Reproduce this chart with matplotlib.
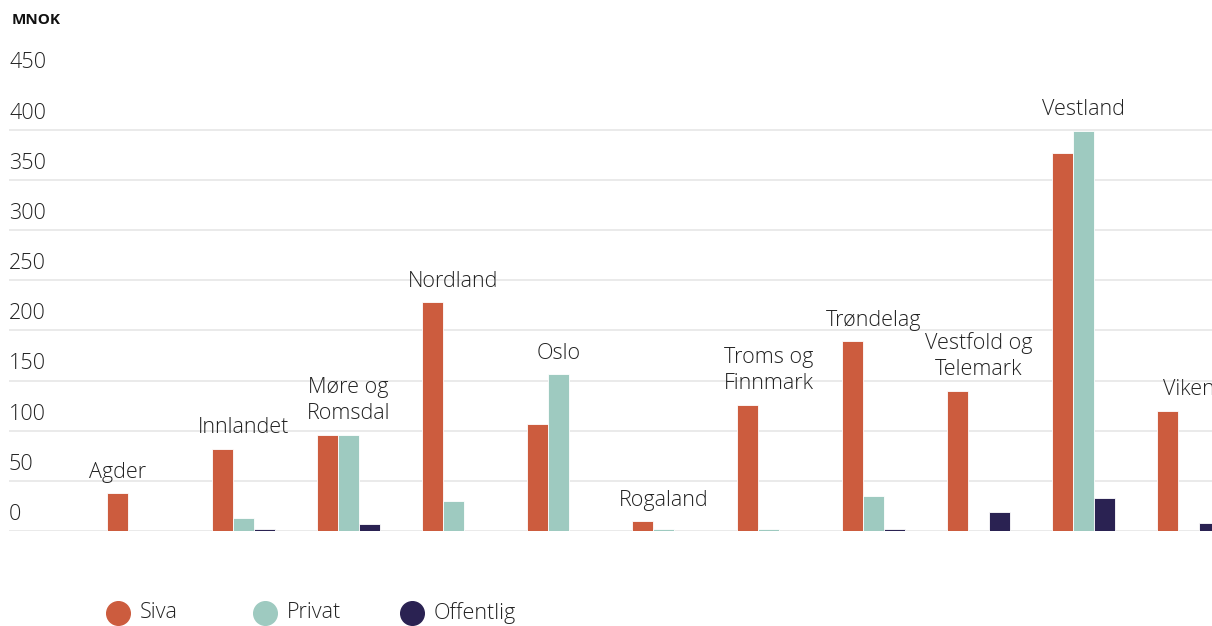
import matplotlib.pyplot as plt
import numpy as np
from matplotlib.lines import Line2D
from matplotlib.transforms import offset_copy

plt.rcParams['font.family'] = ['Open Sans', 'DejaVu Sans']
plt.rcParams['font.weight'] = 'light'

regions = ['Agder', 'Innlandet', 'Møre og\nRomsdal', 'Nordland', 'Oslo', 'Rogaland',
           'Troms og\nFinnmark', 'Trøndelag', 'Vestfold og\nTelemark', 'Vestland', 'Viken']
siva = [38, 82, 96, 228, 107, 10, 126, 189, 140, 377, 120]
privat = [0, 13, 96, 30, 156, 2, 2, 35, 0, 399, 0]
offentlig = [0, 2, 7, 0, 0, 0, 0, 2, 19, 33, 8]
yticks = [0, 50, 100, 150, 200, 250, 300, 350, 400, 450]

colors = {'Siva': '#cc5c3e', 'Privat': '#9ecac0', 'Offentlig': '#2a2252'}
fs = 15.5
W, H = 1212, 626

fig = plt.figure(figsize=(W / 100, H / 100), dpi=100)
ax = fig.add_axes([9 / W, 95 / H, 1 - 9 / W, 451.5 / H])

x = np.arange(len(regions))
w = 0.2
for off, name, vals in [(-w, 'Siva', siva), (0, 'Privat', privat), (w, 'Offentlig', offentlig)]:
    ax.bar(x + off, vals, width=w, color=colors[name], edgecolor='white', linewidth=0.6,
           zorder=3)

ax.set_xlim(-1.233, 10.224)
ax.set_ylim(0, 450)

# gridlines and y labels sitting above the lines
for v in yticks:
    ax.axhline(v, color='#e6e6e6', lw=1.2, zorder=1)
    ax.text(0.0, v, str(v), transform=offset_copy(ax.get_yaxis_transform(), fig, y=8, units='points'),
            ha='left', va='baseline', fontsize=fs, color='#222222')

ax.set_xticks([])
ax.set_yticks([])
for s in ax.spines.values():
    s.set_visible(False)

# region names above each group
label_shift = {'Agder': -0.2}
for i, name in enumerate(regions):
    top = max(siva[i], privat[i], offentlig[i])
    key = name.split('\n')[0]
    ax.annotate(name, (x[i] + label_shift.get(key, 0), top), xytext=(0, 11),
                textcoords='offset points', ha='center', va='baseline',
                fontsize=fs, color='#222222', linespacing=1.35, annotation_clip=False)

fig.text(12 / W, 1 - 20 / H, 'MNOK', fontsize=11, fontweight='bold', color='#111111',
         va='center', ha='left')

# legend items on a fixed pitch
leg_y = 1 - 613 / H
for k, (name, c) in enumerate(colors.items()):
    cx = (118 + 147 * k) / W
    fig.add_artist(Line2D([cx], [leg_y], marker='o', markersize=17, linestyle='none',
                          markerfacecolor=c, markeredgecolor=c, transform=fig.transFigure))
    fig.text(cx + 22 / W, leg_y, name, fontsize=fs, color='#222222', va='center', ha='left')

fig.savefig('out.png', dpi=100)
